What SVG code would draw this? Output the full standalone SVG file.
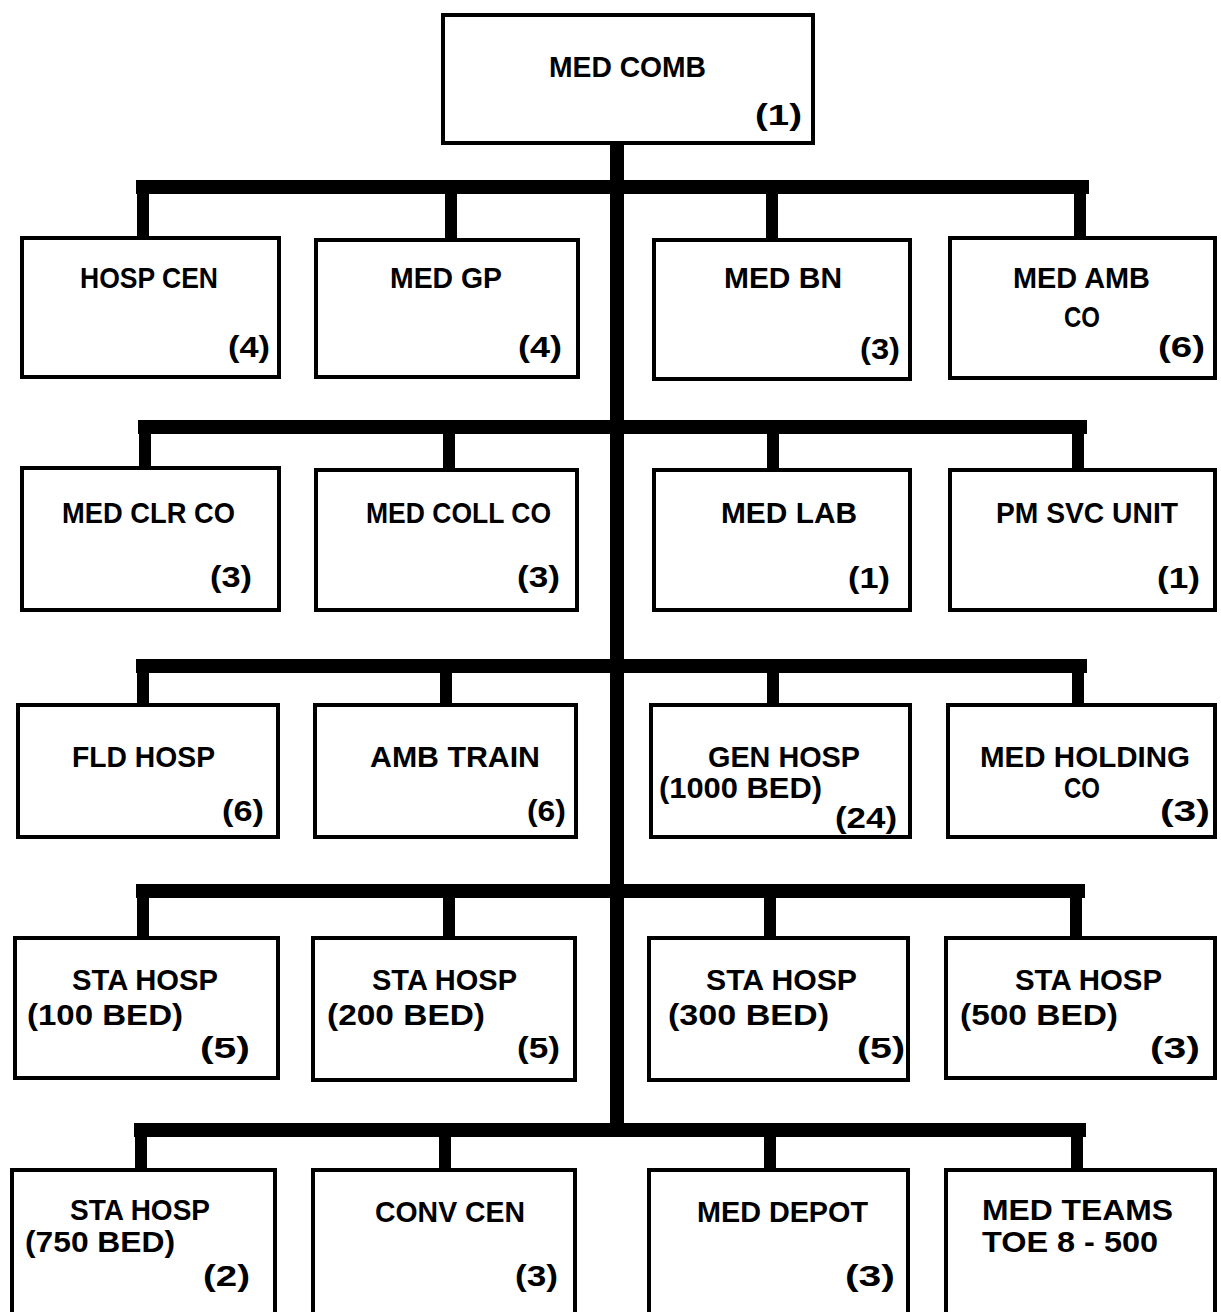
<svg xmlns="http://www.w3.org/2000/svg" width="1221" height="1312" viewBox="0 0 1221 1312">
<style>
.box{fill:#fff;stroke:#000;stroke-width:4}
.t{font-family:"Liberation Sans",Arial,sans-serif;font-weight:bold;font-size:30px;fill:#000}
.c{fill:none;stroke:#000;stroke-width:14;stroke-linecap:square}
.d{fill:none;stroke:#000;stroke-width:12}
</style>
<rect width="1221" height="1312" fill="#fff"/>
<g id="connectors">
<path class="c" d="M617,145 V1128"/>
<path class="c" d="M143,187 H1082"/>
<path class="d" d="M143,187 V238 M451,187 V240 M772,187 V240 M1080,187 V238"/>
<path class="c" d="M145,427 H1080"/>
<path class="d" d="M145,427 V469 M449,427 V470 M773,427 V470 M1078,427 V470"/>
<path class="c" d="M143,666 H1080"/>
<path class="d" d="M143,666 V705 M446,666 V705 M773,666 V705 M1078,666 V705"/>
<path class="c" d="M143,891 H1078"/>
<path class="d" d="M143,891 V938 M449,891 V938 M770,891 V938 M1076,891 V938"/>
<path class="c" d="M141,1130 H1079"/>
<path class="d" d="M141,1130 V1170 M445,1130 V1170 M770,1130 V1170 M1077,1130 V1170"/>
</g>
<g id="med-comb"><rect class="box" x="443" y="15" width="370" height="128"/>
<text class="t" x="549" y="77" textLength="157" lengthAdjust="spacingAndGlyphs">MED COMB</text>
<text class="t" x="755" y="125" textLength="47" lengthAdjust="spacingAndGlyphs">(1)</text></g>

<g id="hosp-cen"><rect class="box" x="22" y="238" width="257" height="139"/>
<text class="t" x="80" y="288" textLength="138" lengthAdjust="spacingAndGlyphs">HOSP CEN</text>
<text class="t" x="228" y="357" textLength="42" lengthAdjust="spacingAndGlyphs">(4)</text></g>
<g id="med-gp"><rect class="box" x="316" y="240" width="262" height="137"/>
<text class="t" x="390" y="288" textLength="112" lengthAdjust="spacingAndGlyphs">MED GP</text>
<text class="t" x="518" y="357" textLength="44" lengthAdjust="spacingAndGlyphs">(4)</text></g>
<g id="med-bn"><rect class="box" x="654" y="240" width="256" height="139"/>
<text class="t" x="724" y="288" textLength="118" lengthAdjust="spacingAndGlyphs">MED BN</text>
<text class="t" x="860" y="359" textLength="40" lengthAdjust="spacingAndGlyphs">(3)</text></g>
<g id="med-amb-co"><rect class="box" x="950" y="238" width="265" height="140"/>
<text class="t" x="1013" y="288" textLength="137" lengthAdjust="spacingAndGlyphs">MED AMB</text>
<text class="t" x="1064" y="327" textLength="36" lengthAdjust="spacingAndGlyphs">CO</text>
<text class="t" x="1158" y="357" textLength="47" lengthAdjust="spacingAndGlyphs">(6)</text></g>

<g id="med-clr-co"><rect class="box" x="22" y="468" width="257" height="142"/>
<text class="t" x="62" y="523" textLength="173" lengthAdjust="spacingAndGlyphs">MED CLR CO</text>
<text class="t" x="210" y="587" textLength="42" lengthAdjust="spacingAndGlyphs">(3)</text></g>
<g id="med-coll-co"><rect class="box" x="316" y="470" width="261" height="140"/>
<text class="t" x="366" y="523" textLength="185" lengthAdjust="spacingAndGlyphs">MED COLL CO</text>
<text class="t" x="517" y="587" textLength="43" lengthAdjust="spacingAndGlyphs">(3)</text></g>
<g id="med-lab"><rect class="box" x="654" y="470" width="256" height="140"/>
<text class="t" x="721" y="523" textLength="136" lengthAdjust="spacingAndGlyphs">MED LAB</text>
<text class="t" x="848" y="588" textLength="42" lengthAdjust="spacingAndGlyphs">(1)</text></g>
<g id="pm-svc-unit"><rect class="box" x="950" y="470" width="265" height="140"/>
<text class="t" x="996" y="523" textLength="182" lengthAdjust="spacingAndGlyphs">PM SVC UNIT</text>
<text class="t" x="1157" y="588" textLength="43" lengthAdjust="spacingAndGlyphs">(1)</text></g>

<g id="fld-hosp"><rect class="box" x="18" y="705" width="260" height="132"/>
<text class="t" x="72" y="767" textLength="143" lengthAdjust="spacingAndGlyphs">FLD HOSP</text>
<text class="t" x="222" y="821" textLength="42" lengthAdjust="spacingAndGlyphs">(6)</text></g>
<g id="amb-train"><rect class="box" x="315" y="705" width="261" height="132"/>
<text class="t" x="370" y="767" textLength="170" lengthAdjust="spacingAndGlyphs">AMB TRAIN</text>
<text class="t" x="527" y="821" textLength="39" lengthAdjust="spacingAndGlyphs">(6)</text></g>
<g id="gen-hosp"><rect class="box" x="651" y="705" width="259" height="132"/>
<text class="t" x="708" y="767" textLength="152" lengthAdjust="spacingAndGlyphs">GEN HOSP</text>
<text class="t" x="659" y="798" textLength="163" lengthAdjust="spacingAndGlyphs">(1000 BED)</text>
<text class="t" x="835" y="828" textLength="62" lengthAdjust="spacingAndGlyphs">(24)</text></g>
<g id="med-holding-co"><rect class="box" x="948" y="705" width="267" height="132"/>
<text class="t" x="980" y="767" textLength="210" lengthAdjust="spacingAndGlyphs">MED HOLDING</text>
<text class="t" x="1064" y="798" textLength="36" lengthAdjust="spacingAndGlyphs">CO</text>
<text class="t" x="1160" y="821" textLength="50" lengthAdjust="spacingAndGlyphs">(3)</text></g>

<g id="sta-hosp-100"><rect class="box" x="15" y="938" width="263" height="140"/>
<text class="t" x="72" y="990" textLength="146" lengthAdjust="spacingAndGlyphs">STA HOSP</text>
<text class="t" x="27" y="1025" textLength="156" lengthAdjust="spacingAndGlyphs">(100 BED)</text>
<text class="t" x="200" y="1058" textLength="50" lengthAdjust="spacingAndGlyphs">(5)</text></g>
<g id="sta-hosp-200"><rect class="box" x="313" y="938" width="262" height="142"/>
<text class="t" x="372" y="990" textLength="145" lengthAdjust="spacingAndGlyphs">STA HOSP</text>
<text class="t" x="327" y="1025" textLength="158" lengthAdjust="spacingAndGlyphs">(200 BED)</text>
<text class="t" x="517" y="1058" textLength="43" lengthAdjust="spacingAndGlyphs">(5)</text></g>
<g id="sta-hosp-300"><rect class="box" x="649" y="938" width="259" height="142"/>
<text class="t" x="706" y="990" textLength="151" lengthAdjust="spacingAndGlyphs">STA HOSP</text>
<text class="t" x="668" y="1025" textLength="161" lengthAdjust="spacingAndGlyphs">(300 BED)</text>
<text class="t" x="857" y="1058" textLength="48" lengthAdjust="spacingAndGlyphs">(5)</text></g>
<g id="sta-hosp-500"><rect class="box" x="946" y="938" width="269" height="140"/>
<text class="t" x="1015" y="990" textLength="147" lengthAdjust="spacingAndGlyphs">STA HOSP</text>
<text class="t" x="960" y="1025" textLength="158" lengthAdjust="spacingAndGlyphs">(500 BED)</text>
<text class="t" x="1150" y="1058" textLength="50" lengthAdjust="spacingAndGlyphs">(3)</text></g>

<g id="sta-hosp-750"><rect class="box" x="12" y="1170" width="263" height="145"/>
<text class="t" x="70" y="1220" textLength="140" lengthAdjust="spacingAndGlyphs">STA HOSP</text>
<text class="t" x="25" y="1252" textLength="150" lengthAdjust="spacingAndGlyphs">(750 BED)</text>
<text class="t" x="203" y="1286" textLength="47" lengthAdjust="spacingAndGlyphs">(2)</text></g>
<g id="conv-cen"><rect class="box" x="313" y="1170" width="262" height="145"/>
<text class="t" x="375" y="1222" textLength="150" lengthAdjust="spacingAndGlyphs">CONV CEN</text>
<text class="t" x="515" y="1286" textLength="43" lengthAdjust="spacingAndGlyphs">(3)</text></g>
<g id="med-depot"><rect class="box" x="649" y="1170" width="259" height="145"/>
<text class="t" x="697" y="1222" textLength="171" lengthAdjust="spacingAndGlyphs">MED DEPOT</text>
<text class="t" x="845" y="1286" textLength="50" lengthAdjust="spacingAndGlyphs">(3)</text></g>
<g id="med-teams"><rect class="box" x="946" y="1170" width="269" height="145"/>
<text class="t" x="982" y="1220" textLength="191" lengthAdjust="spacingAndGlyphs">MED TEAMS</text>
<text class="t" x="982" y="1252" textLength="176" lengthAdjust="spacingAndGlyphs">TOE 8 - 500</text></g>
</svg>
